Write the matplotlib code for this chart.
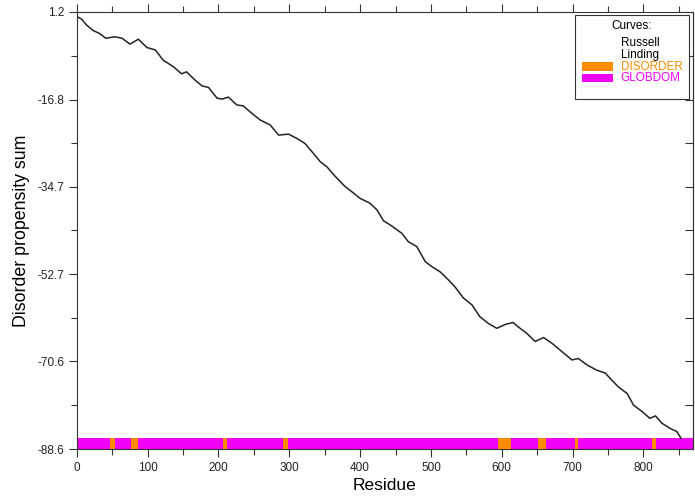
import matplotlib
matplotlib.use('Agg')
import matplotlib.pyplot as plt
from matplotlib.patches import Rectangle

plt.rcParams['font.family'] = ['Liberation Sans', 'DejaVu Sans']

# Russell/Linding disorder propensity sum
residue = [1, 7, 14, 23, 32, 41, 54, 64, 75, 87, 99, 111, 122, 136, 148, 155,
           167, 177, 186, 198, 205, 214, 226, 235, 247, 259, 273, 285, 299, 311,
           322, 332, 344, 353, 365, 379, 388, 400, 414, 424, 433, 445, 459, 468,
           480, 492, 501, 513, 525, 534, 546, 558, 569, 581, 593, 605, 616, 624,
           635, 647, 659, 671, 685, 699, 708, 720, 734, 746, 755, 765, 777, 786,
           798, 809, 817, 826, 838, 847, 853]
propensity = [0.2, -0.3, -1.5, -2.6, -3.2, -4.2, -3.9, -4.2, -5.4, -4.4, -6.1,
              -6.6, -8.7, -10.0, -11.5, -11.1, -12.8, -14.0, -14.3, -16.5, -16.7,
              -16.3, -17.9, -18.1, -19.6, -21.0, -22.0, -24.1, -23.9, -24.8,
              -25.8, -27.5, -29.6, -30.6, -32.6, -34.7, -35.7, -37.1, -38.1,
              -39.5, -41.7, -42.8, -44.3, -46.0, -47.0, -50.1, -51.1, -52.2,
              -53.9, -55.3, -57.6, -59.0, -61.4, -62.8, -63.8, -63.0, -62.6,
              -63.6, -64.8, -66.5, -65.7, -66.9, -68.6, -70.3, -70.0, -71.3,
              -72.4, -73.0, -74.4, -75.9, -77.2, -79.6, -80.9, -82.3, -81.8,
              -83.3, -84.4, -85.0, -86.4]

# predicted regions (start, end residue)
globdom_regions = [(0, 870)]
disorder_regions = [(47, 54), (77, 86), (206, 212), (291, 298),
                    (594, 613), (651, 662), (703, 708), (812, 817)]

y_ticks = [1.2, -16.8, -34.7, -52.7, -70.6, -88.6]
x_ticks = [0, 100, 200, 300, 400, 500, 600, 700, 800]

orange = '#ff8c00'
magenta = '#f000f5'
axcol = '#333333'

fig = plt.figure(figsize=(6.95, 4.99), dpi=100)
ax = fig.add_axes([0.1104, 0.1002, 0.8868, 0.8758])

ax.set_xlim(0, 870)
ax.set_ylim(-88.6, 1.2)

# region bar along the bottom
bar_y, bar_h = -88.6, 2.2
ax.broken_barh([(s, e - s) for s, e in globdom_regions], (bar_y, bar_h),
               facecolor=magenta, edgecolor='none', zorder=2)
ax.broken_barh([(s, e - s) for s, e in disorder_regions], (bar_y, bar_h),
               facecolor=orange, edgecolor='none', zorder=3)

ax.plot(residue, propensity, color='#222222', lw=1.1, zorder=4)

# ticks
ax.set_yticks(y_ticks)
ax.set_yticklabels([f'{v:.1f}' for v in y_ticks])
minor_y = [(a + b) / 2 for a, b in zip(y_ticks[:-1], y_ticks[1:])]
ax.set_yticks(minor_y, minor=True)
ax.set_xticks(x_ticks)
ax.set_xticks([x + 50 for x in x_ticks], minor=True)

ax.tick_params(axis='both', which='major', labelsize=8.5, length=5.5, width=0.8,
               color=axcol, labelcolor='#222222')
ax.tick_params(axis='both', which='minor', length=4.5, width=0.8, color=axcol)
ax.tick_params(axis='x', which='both', direction='out', top=True, labeltop=False)
ax.tick_params(axis='y', which='both', direction='out', right=False)

sec = ax.secondary_yaxis('right')
sec.set_yticks(y_ticks + minor_y)
sec.tick_params(direction='in', length=6, width=0.8, labelright=False,
                color=axcol)
sec.spines['right'].set_linewidth(0.8)
sec.spines['right'].set_color(axcol)

for s in ax.spines.values():
    s.set_linewidth(0.8)
    s.set_color(axcol)

ax.set_xlabel('Residue', fontsize=12.5, labelpad=3)
ax.set_ylabel('Disorder propensity sum', fontsize=12.8, labelpad=5)

# legend box drawn by hand
fs = 8.5
ax.add_patch(Rectangle((0.8085, 0.8009), 0.185, 0.1922, transform=ax.transAxes,
                       facecolor='white', edgecolor=axcol, lw=0.8, zorder=6))
ax.text(0.901, 0.9686, 'Curves:', transform=ax.transAxes, fontsize=fs,
        ha='center', va='center', zorder=7)
ax.text(0.8827, 0.9284, 'Russell', transform=ax.transAxes, fontsize=fs,
        ha='left', va='center', zorder=7)
ax.text(0.8827, 0.9016, 'Linding', transform=ax.transAxes, fontsize=fs,
        ha='left', va='center', zorder=7)
ax.add_patch(Rectangle((0.8194, 0.8657), 0.0513, 0.0193, transform=ax.transAxes,
                       facecolor=orange, edgecolor='none', zorder=7))
ax.text(0.8827, 0.875, 'DISORDER', transform=ax.transAxes, fontsize=fs,
        color=orange, ha='left', va='center', zorder=7)
ax.add_patch(Rectangle((0.8194, 0.8391), 0.0513, 0.019, transform=ax.transAxes,
                       facecolor=magenta, edgecolor='none', zorder=7))
ax.text(0.8827, 0.8483, 'GLOBDOM', transform=ax.transAxes, fontsize=fs,
        color=magenta, ha='left', va='center', zorder=7)

fig.savefig('out.png', dpi=100)
